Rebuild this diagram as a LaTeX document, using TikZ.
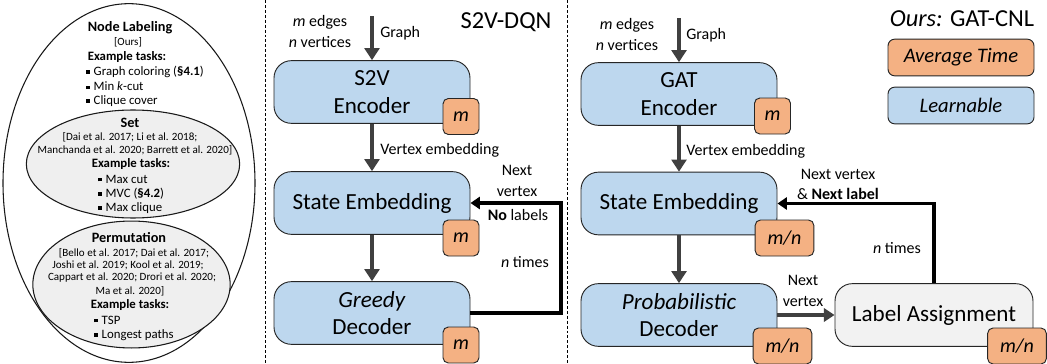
\documentclass[tikz,border=0pt]{standalone}
\usepackage{fontspec}
\setmainfont{Carlito}
\usetikzlibrary{arrows.meta}
\definecolor{bluef}{HTML}{BDD7EE}
\definecolor{orf}{HTML}{F4B183}
\definecolor{greyf}{HTML}{F2F2F2}
\definecolor{ellf}{HTML}{EFEFEF}
\definecolor{dk}{HTML}{404040}
\newcommand{\bul}{\rule[1.3pt]{2.6pt}{2.6pt}\hspace{3pt}}
\begin{document}
\begin{tikzpicture}[x=0.75pt,y=-0.75pt,
  bigbox/.style={draw=black!85, line width=0.7pt, rounded corners=13pt, fill=bluef,
    minimum width=147pt, minimum height=47pt, align=center,
    font=\fontsize{17.3}{20.5}\selectfont, inner sep=0pt},
  tbox/.style={draw=black!85, line width=0.7pt, rounded corners=4pt, fill=orf,
    minimum height=27pt, inner sep=0pt, font=\fontsize{15}{17}\selectfont\itshape},
  mbox/.style={tbox, minimum width=27pt},
  mnbox/.style={tbox, minimum width=44pt},
  legbox/.style={draw=black!85, line width=0.7pt, rounded corners=5pt,
    minimum width=109.5pt, minimum height=27.5pt, inner sep=0pt,
    font=\fontsize{15.5}{18}\selectfont\itshape},
  lbl/.style={font=\fontsize{12}{15.75}\selectfont, inner sep=0pt, align=center},
  ttl/.style={font=\fontsize{18.3}{21}\selectfont, inner sep=0pt},
  garrow/.style={draw=dk, line width=3.6pt, -{Triangle[width=11pt,length=9pt]}},
  fb/.style={draw=black, line width=2.3pt, -{Triangle[width=9pt,length=7pt]}},
  ell/.style={draw=black!90, line width=0.8pt},
  hd/.style={font=\fontsize{10.7}{12}\selectfont\bfseries, inner sep=0pt},
  ex/.style={font=\fontsize{9.6}{11}\selectfont\bfseries, inner sep=0pt},
  bl/.style={font=\fontsize{9.6}{11}\selectfont, inner sep=0pt, anchor=west},
  cit/.style={font=\fontsize{8.3}{9}\selectfont, inner sep=0pt},
  sep/.style={draw=black, line width=0.6pt, dash pattern=on 2.2pt off 1.5pt}
]
\useasboundingbox (0,0) rectangle (1047,364);

% ---------- left ellipses ----------
\draw[ell, fill=white] (129,183) ellipse [x radius=94.5pt, y radius=134.5pt];
\draw[ell, fill=ellf] (133,164) ellipse [x radius=80pt, y radius=40.5pt];
\draw[ell, fill=ellf] (131.5,284.5) ellipse [x radius=74pt, y radius=47.6pt];

\node[hd] (nl) at (130,28) {Node Labeling};
\node[cit] (ours) at (128,42) {[Ours]};
\node[ex] (ex1) at (127,57) {Example tasks:};
\node[bl] (b1) at (86,72) {\bul Graph coloring (\textbf{§4.1})};
\node[bl] (b2) at (86,86.5) {\bul Min \textit{k}-cut};
\node[bl] (b3) at (86,101) {\bul Clique cover};

\node[hd] (set) at (130,123) {Set};
\node[cit] (c1) at (130,137) {[Dai et al. 2017; Li et al. 2018;};
\node[cit] (c2) at (135,150) {Manchanda et al. 2020; Barrett et al. 2020]};
\node[ex] (ex2) at (131,164) {Example tasks:};
\node[bl] (b4) at (98,179) {\bul Max cut};
\node[bl] (b5) at (98,193.5) {\bul MVC (\textbf{§4.2})};
\node[bl] (b6) at (98,208) {\bul Max clique};

\node[hd] (perm) at (129,238) {Permutation};
\node[cit] (c3) at (134,253) {[Bello et al. 2017; Dai et al. 2017;};
\node[cit] (c4) at (128,265) {Joshi et al. 2019; Kool et al. 2019;};
\node[cit] (c5) at (132,278) {Cappart et al. 2020; Drori et al. 2020;};
\node[cit] (c6) at (130,291) {Ma et al. 2020]};
\node[ex] (ex3) at (130,305) {Example tasks:};
\node[bl] (b7) at (94,320) {\bul TSP};
\node[bl] (b8) at (94,335) {\bul Longest paths};

% ---------- separators ----------
\coordinate (s1t) at (265,0); \coordinate (s1b) at (265,364);
\coordinate (s2t) at (567,0); \coordinate (s2b) at (567,364);
\draw[sep] (s1t) -- (s1b);
\draw[sep] (s2t) -- (s2b);

% ---------- S2V-DQN ----------
\node[ttl] (t1) at (506,22) {S2V-DQN};
\node[lbl] (in1) at (320,32) {\textit{m} edges\\\textit{n} vertices};
\node[bigbox] (enc1) at (372,92) {S2V\\Encoder};
\node[bigbox] (se1) at (372,203) {State Embedding};
\node[bigbox] (gd) at (372,313) {\textit{Greedy}\\Decoder};
\node[mbox] (te1) at (461,116.5) {m};
\node[mbox] (te2) at (461,238) {m};
\node[mbox] (te3) at (461,345) {m};
\coordinate (g1) at (372,16);
\draw[garrow] (g1) -- (enc1.north);
\node[lbl, anchor=west] (gl1) at (380,33) {Graph};
\draw[garrow] (enc1.south) -- (se1.north);
\node[lbl, anchor=west] (ve1) at (380,150) {Vertex embedding};
\draw[garrow] (se1.south) -- (gd.north);
\coordinate (r1) at (561,250);
\draw[fb] (gd.east) -| (r1) |- (se1.east);
\node[lbl] (nv1) at (517,181) {Next\\vertex};
\node[lbl] (nol) at (518,215) {\textbf{No} labels};
\node[lbl] (nt1) at (525,262) {\textit{n} times};

% ---------- GAT-CNL ----------
\node[ttl] (t2) at (962,19) {\textit{Ours:} GAT-CNL};
\node[legbox, fill=orf] (lg1) at (961,57.5) {Average Time};
\node[legbox, fill=bluef] (lg2) at (961,105.5) {Learnable};
\node[lbl] (in2) at (627,35) {\textit{m} edges\\\textit{n} vertices};
\node[bigbox] (enc2) at (679,94) {GAT\\Encoder};
\node[bigbox] (se2) at (679,203.5) {State Embedding};
\node[bigbox] (pd) at (679,315) {\textit{Probabilistic}\\Decoder};
\node[bigbox, fill=greyf, minimum width=148.5pt] (la) at (934,315) {Label Assignment};
\node[mbox] (te4) at (772.5,116) {m};
\node[mnbox] (te5) at (784.5,238) {m/n};
\node[mnbox] (te6) at (782.5,346) {m/n};
\node[mnbox] (te7) at (1017,346) {m/n};
\coordinate (g2) at (679,18);
\draw[garrow] (g2) -- (enc2.north);
\node[lbl, anchor=west] (gl2) at (686,35) {Graph};
\draw[garrow] (enc2.south) -- (se2.north);
\node[lbl, anchor=west] (ve2) at (686,151) {Vertex embedding};
\draw[garrow] (se2.south) -- (pd.north);
\draw[draw=dk, line width=3.2pt, -{Triangle[width=10pt,length=8pt]}] (pd.east) -- (la.west);
\node[lbl] (nv2) at (803,291) {Next\\vertex};
\draw[fb] (la.north) |- (se2.east);
\node[lbl] (nv3) at (838,174) {Next vertex};
\node[lbl] (nlb) at (838,194) {\& \textbf{Next label}};
\node[lbl] (nt2) at (897,248) {\textit{n} times};
\end{tikzpicture}
\end{document}
